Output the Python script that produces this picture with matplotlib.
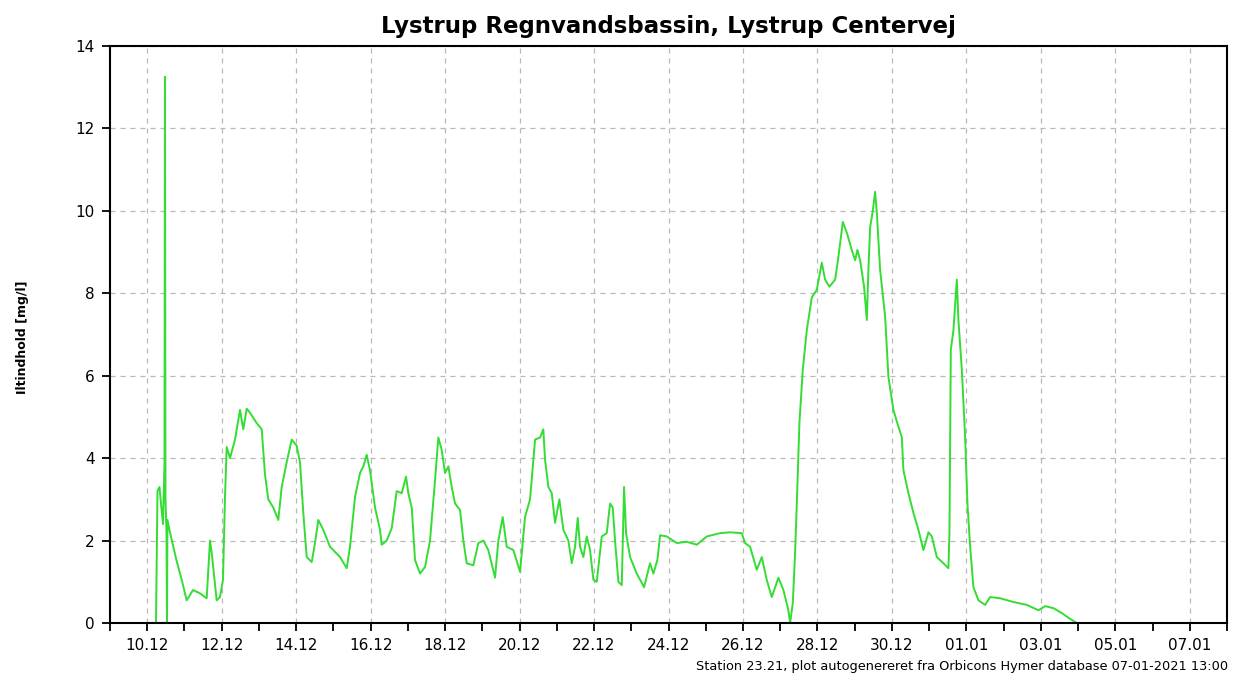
import matplotlib
matplotlib.use('Agg')
import matplotlib.pyplot as plt
import matplotlib.dates as mdates
from matplotlib.ticker import FixedLocator, MultipleLocator
from datetime import datetime, timedelta

# dage efter 09.12.2020 00:00
days = [1.236, 1.249, 1.276, 1.330, 1.370, 1.424, 1.464, 1.477, 1.491, 1.518,
        1.531, 1.544, 1.612, 1.792, 1.926, 2.060, 2.229, 2.417, 2.597, 2.686,
        2.732, 2.866, 2.955, 3.035, 3.089, 3.135, 3.223, 3.358, 3.492, 3.580,
        3.672, 3.760, 3.940, 4.075, 4.163, 4.252, 4.386, 4.520, 4.612, 4.746,
        4.880, 5.015, 5.103, 5.192, 5.283, 5.418, 5.506, 5.595, 5.729, 5.909,
        6.178, 6.358, 6.446, 6.581, 6.715, 6.804, 6.895, 6.984, 7.118, 7.252,
        7.298, 7.432, 7.566, 7.701, 7.835, 7.951, 8.012, 8.104, 8.192, 8.327,
        8.461, 8.595, 8.730, 8.818, 8.909, 8.998, 9.087, 9.178, 9.267, 9.401,
        9.490, 9.581, 9.758, 9.893, 10.027, 10.161, 10.341, 10.430, 10.548, 10.655,
        10.833, 11.013, 11.147, 11.281, 11.416, 11.550, 11.638, 11.684, 11.773, 11.864,
        11.953, 12.068, 12.176, 12.310, 12.401, 12.490, 12.562, 12.624, 12.713, 12.804,
        12.893, 12.982, 13.073, 13.207, 13.341, 13.430, 13.502, 13.564, 13.653, 13.744,
        13.806, 13.860, 13.967, 14.147, 14.343, 14.504, 14.593, 14.701, 14.773, 14.953,
        15.222, 15.490, 15.759, 16.028, 16.385, 16.653, 16.967, 17.056, 17.190, 17.370,
        17.505, 17.639, 17.773, 17.951, 18.085, 18.219, 18.265, 18.337, 18.399, 18.445,
        18.515, 18.605, 18.713, 18.848, 18.982, 19.116, 19.205, 19.321, 19.474, 19.562,
        19.680, 19.788, 19.922, 20.011, 20.073, 20.145, 20.252, 20.325, 20.368, 20.414,
        20.486, 20.548, 20.594, 20.682, 20.817, 20.905, 21.039, 21.174, 21.265, 21.308,
        21.442, 21.577, 21.711, 21.845, 21.980, 22.071, 22.205, 22.382, 22.517, 22.544,
        22.581, 22.651, 22.742, 22.785, 22.877, 22.965, 23.027, 23.100, 23.188, 23.323,
        23.503, 23.637, 23.905, 24.262, 24.622, 24.934, 25.114, 25.337, 25.562, 25.786,
        25.965]
ilt = [0, 1.0, 3.2, 3.3, 2.9, 2.4, 3.9, 13.25, 3.0, 2.2,
       0, 2.5, 2.2, 1.5, 1.05, 0.55, 0.8, 0.72, 0.6, 2.0,
       1.7, 0.55, 0.63, 1.05, 3.05, 4.27, 4.0, 4.45, 5.17, 4.7,
       5.2, 5.1, 4.85, 4.7, 3.6, 3.0, 2.8, 2.5, 3.3, 3.9,
       4.45, 4.3, 3.9, 2.67, 1.6, 1.48, 1.94, 2.5, 2.26, 1.85,
       1.6, 1.33, 1.85, 3.06, 3.64, 3.8, 4.08, 3.7, 2.8, 2.26,
       1.9, 2.0, 2.3, 3.2, 3.15, 3.55, 3.15, 2.8, 1.53, 1.2,
       1.36, 2.0, 3.47, 4.5, 4.2, 3.64, 3.8, 3.3, 2.9, 2.74,
       2.0, 1.45, 1.4, 1.94, 2.0, 1.77, 1.1, 2.0, 2.57, 1.85,
       1.77, 1.24, 2.57, 3.0, 4.45, 4.5, 4.7, 3.96, 3.3, 3.15,
       2.43, 3.0, 2.26, 2.0, 1.45, 1.85, 2.55, 1.85, 1.6, 2.1,
       1.77, 1.05, 1.0, 2.1, 2.18, 2.9, 2.8, 2.0, 1.0, 0.92,
       3.3, 2.18, 1.6, 1.2, 0.87, 1.45, 1.2, 1.53, 2.13, 2.1,
       1.94, 1.97, 1.9, 2.1, 2.18, 2.2, 2.18, 1.94, 1.85, 1.29,
       1.6, 1.04, 0.63, 1.1, 0.8, 0.31, 0, 0.48, 1.7, 2.9,
       4.85, 6.14, 7.1, 7.9, 8.08, 8.74, 8.33, 8.16, 8.33, 8.88,
       9.73, 9.47, 9.05, 8.8, 9.05, 8.8, 8.16, 7.35, 8.57, 9.6,
       10.0, 10.46, 9.95, 8.57, 7.43, 5.97, 5.17, 4.76, 4.51, 3.71,
       3.15, 2.67, 2.26, 1.77, 2.2, 2.1, 1.6, 1.45, 1.33, 2.18,
       6.63, 7.1, 8.33, 7.35, 6.14, 4.51, 2.9, 1.85, 0.87, 0.55,
       0.44, 0.63, 0.6, 0.51, 0.44, 0.31, 0.41, 0.36, 0.24, 0.1,
       0]

tick_labels = ['10.12', '12.12', '14.12', '16.12', '18.12', '20.12', '22.12',
               '24.12', '26.12', '28.12', '30.12', '01.01', '03.01', '05.01', '07.01']
tick_years = [2020] * 11 + [2021] * 4

start = datetime(2020, 12, 9)
end = datetime(2021, 1, 8)
times = [start + timedelta(days=d) for d in days]
tick_dates = [datetime.strptime(l + '.' + str(y), '%d.%m.%Y') for l, y in zip(tick_labels, tick_years)]

fig = plt.figure(figsize=(12.44, 6.75), dpi=100)
ax = fig.add_axes([0.0884, 0.077, 0.898, 0.855])
ax.plot(times, ilt, color='#33dd33', lw=1.4)

ax.set_xlim(start, end)
ax.set_ylim(0, 14)
ax.xaxis.set_major_locator(FixedLocator(mdates.date2num(tick_dates)))
ax.set_xticklabels(tick_labels)
ax.xaxis.set_minor_locator(mdates.DayLocator())
ax.yaxis.set_major_locator(MultipleLocator(2))

ax.grid(True, which='major', color='#b8b8b8', linestyle=(0, (4, 4)), lw=0.9)
ax.tick_params(which='both', direction='out', length=6, width=1.3, color='black',
               labelsize=11, pad=5)
for s in ax.spines.values():
    s.set_linewidth(1.5)

ax.set_title('Lystrup Regnvandsbassin, Lystrup Centervej', fontsize=16.5,
             fontweight='bold', pad=9)
fig.text(0.018, 0.5, 'Iltindhold [mg/l]', rotation=90, fontsize=9,
         fontweight='bold', ha='center', va='center')
fig.text(0.987, 0.013, 'Station 23.21, plot autogenereret fra Orbicons Hymer database 07-01-2021 13:00',
         fontsize=9.3, ha='right', va='center')

plt.savefig('out.png', dpi=100)
